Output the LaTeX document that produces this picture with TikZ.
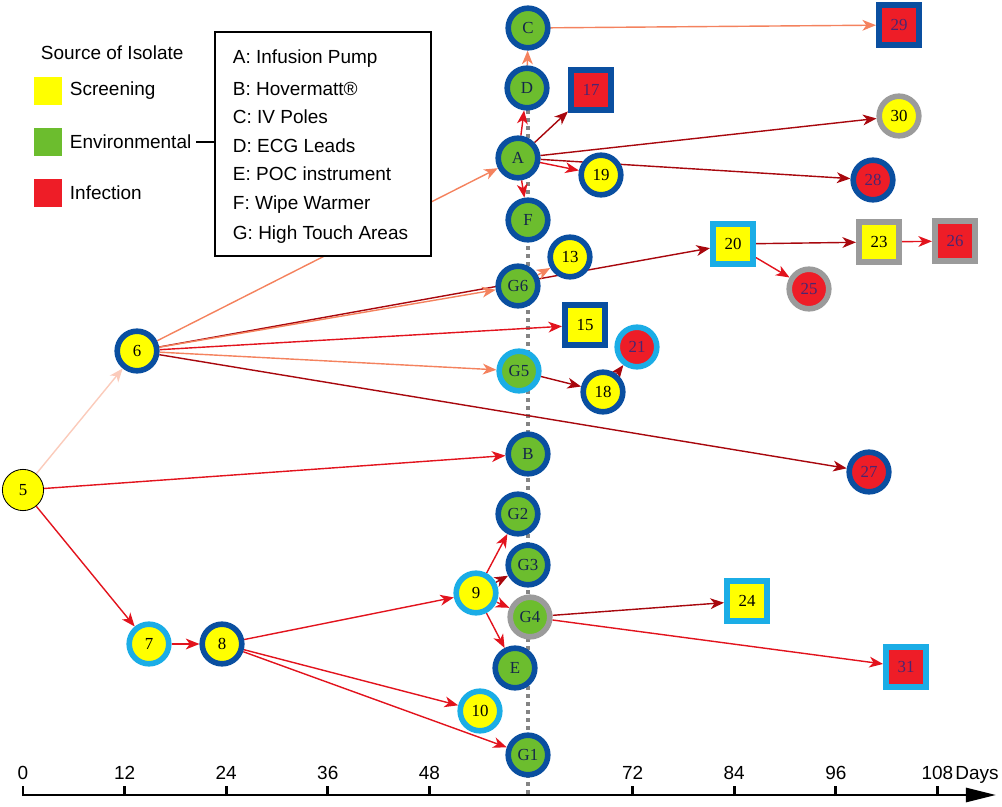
\documentclass[tikz,border=0pt]{standalone}
\usepackage{fontspec}
\setmainfont{Liberation Serif}
\setsansfont{Liberation Sans}
\usepackage{tikz}
\usetikzlibrary{arrows.meta,positioning,calc,shapes}
\pgfdeclarelayer{background}
\pgfsetlayers{background,main}

\definecolor{scrYellow}{HTML}{FFFF00}
\definecolor{envGreen}{HTML}{6CBD2E}
\definecolor{infRed}{HTML}{EE1D27}
\definecolor{rimDark}{HTML}{0A4FA0}
\definecolor{rimLight}{HTML}{1BADE6}
\definecolor{rimGray}{HTML}{9B9B9B}
\definecolor{edgeRed}{HTML}{E2131D}
\definecolor{edgeDark}{HTML}{A8070D}
\definecolor{edgeSalmon}{HTML}{F4825E}
\definecolor{edgePale}{HTML}{FBCBBB}
\definecolor{txtNavy}{HTML}{14264A}
\definecolor{txtPurple}{HTML}{4A2670}

\newcommand{\legendfont}{\sffamily\fontsize{13.5}{16}\selectfont}
\newcommand{\isofont}{\fontsize{12}{13}\selectfont}

\begin{document}
\begin{tikzpicture}[x=0.025cm,y=-0.025cm,
  iso/.style={circle,minimum size=0.99cm,inner sep=0pt,line width=0.14cm,font=\isofont},
  sqr/.style={rectangle,minimum size=1.0cm,inner sep=0pt,line width=0.15cm,font=\isofont},
  scr/.style={fill=scrYellow,text=black},
  env/.style={fill=envGreen,text=txtNavy},
  inf/.style={fill=infRed,text=txtPurple},
  dk/.style={draw=rimDark},
  lt/.style={draw=rimLight},
  gy/.style={draw=rimGray},
  link/.style={line width=1pt,-{Stealth[length=0.34cm,width=0.27cm,inset=0.1cm]}},
  hot/.style={link,edgeRed},
  deep/.style={link,edgeDark},
  soft/.style={link,edgeSalmon},
  faint/.style={link,edgePale}]
\useasboundingbox (0,0) rectangle (1002,807);

% Isolates
\node[iso,scr,draw=black,line width=0.6pt,minimum size=1.03cm] (n5) at (23,490) {5};
\node[iso,scr,dk] (n6) at (137,351) {6};
\node[iso,scr,lt] (n7) at (149,644) {7};
\node[iso,scr,dk] (n8) at (222,644) {8};
\node[iso,scr,lt] (n9) at (476,593) {9};
\node[iso,scr,lt] (n10) at (480,711) {10};
\node[iso,scr,dk] (n13) at (570,257) {13};
\node[sqr,scr,dk] (n15) at (585,325) {15};
\node[sqr,inf,dk] (n17) at (591,90) {17};
\node[iso,scr,dk] (n18) at (603,392) {18};
\node[iso,scr,dk] (n19) at (601,175) {19};
\node[sqr,scr,lt] (n20) at (733,244) {20};
\node[iso,inf,lt] (n21) at (637,347) {21};
\node[sqr,scr,gy] (n23) at (879,242) {23};
\node[sqr,scr,lt] (n24) at (747,601) {24};
\node[iso,inf,gy] (n25) at (809,289) {25};
\node[sqr,inf,gy] (n26) at (955,241) {26};
\node[iso,inf,dk] (n27) at (869,472) {27};
\node[iso,inf,dk] (n28) at (873,180) {28};
\node[sqr,inf,dk] (n29) at (899,25) {29};
\node[iso,scr,gy] (n30) at (899,116) {30};
\node[sqr,inf,lt] (n31) at (906,667) {31};

% Environmental samples
\node[iso,env,dk] (nC) at (528,28) {C};
\node[iso,env,dk] (nD) at (527,88) {D};
\node[iso,env,dk] (nA) at (518,158) {A};
\node[iso,env,dk] (nF) at (528,220) {F};
\node[iso,env,dk] (nG6) at (518,286) {G6};
\node[iso,env,lt] (nG5) at (519,371) {G5};
\node[iso,env,dk] (nB) at (528,454) {B};
\node[iso,env,dk] (nG2) at (518,514) {G2};
\node[iso,env,dk] (nG3) at (528,565) {G3};
\node[iso,env,gy] (nG4) at (530,617) {G4};
\node[iso,env,dk] (nE) at (515,668) {E};
\node[iso,env,dk] (nG1) at (528,755) {G1};

\begin{pgfonlayer}{background}
% Day 60 marker
\draw[rimGray!85!black,line width=0.08cm,dash pattern=on 0.1cm off 0.1cm] (528,110) -- (528,795);

% Transmission links
\draw[faint] (n5) -- (n6);
\foreach \a/\b in {n5/n7,n5/nB,n7/n8,n8/n9,n8/n10,n8/nG1,n6/n15,nA/nD,nA/n19,nA/nF,
                   n9/nG2,n9/nG4,n9/nE,nG4/n31,n20/n25,n23/n26}
    \draw[hot] (\a) -- (\b);
\foreach \a/\b in {n6/n20,n6/n27,nG5/n18,n18/n21,nA/n17,nA/n30,nA/n28,n9/nG3,nG4/n24,n20/n23}
    \draw[deep] (\a) -- (\b);
\foreach \a/\b in {n6/nA,n6/nG6,nG6/n13,n6/nG5,nD/nC,nC/n29}
    \draw[soft] (\a) -- (\b);
\end{pgfonlayer}

% Legend
\node[font=\legendfont,anchor=west] (srcTitle) at (36,53) {Source of Isolate};
\foreach \k/\y/\c/\txt in {Scr/91/scrYellow/Screening,Env/142/envGreen/Environmental,Inf/193/infRed/Infection}{
    \node[fill=\c,minimum size=0.7cm,inner sep=0pt] (sw\k) at (48,\y) {};
    \node[font=\legendfont,anchor=west] (lb\k) at (65,\y) {\txt};
}

% Key of sample sites
\node[draw,fill=white,line width=1pt,minimum width=5.4cm,minimum height=5.6cm,inner sep=0pt] (keybox) at (323,144) {};
\foreach \k/\y/\txt in {1/59/A: Infusion Pump,2/89/B: Hovermatt®,3/117/C: IV Poles,4/146/D: ECG Leads,
                        5/174/E: POC instrument,6/205/F: Wipe Warmer,7/235/G: High Touch Areas}
    \node[font=\legendfont,anchor=west] (key\k) at (228,\y) {\txt};
\draw[line width=0.8pt] (lbEnv.east) -- (keybox.west |- lbEnv.east);

% Time axis
\draw[line width=2pt,-{Triangle[length=0.75cm,width=0.35cm]}] (22,795) -- (996,795);
\foreach \d in {0,12,24,36,48,72,84,96,108}
    \draw[line width=2pt] ({23+8.4667*\d},796) -- ++(0,-10) node[above,font=\legendfont] (t\d) {\d};
\node[font=\legendfont,anchor=base west,inner sep=0pt] (days) at ([xshift=-3pt]t108.base east) {Days};
\end{tikzpicture}
\end{document}
